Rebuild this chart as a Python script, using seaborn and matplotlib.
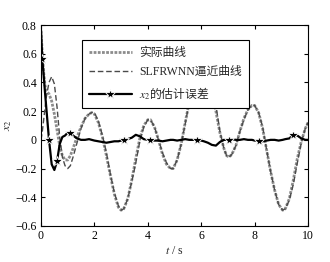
import matplotlib
matplotlib.use("Agg")
import matplotlib.pyplot as plt
import seaborn as sns
import pandas as pd

t = [0.0, 0.05, 0.1, 0.15, 0.2, 0.3, 0.4, 0.5, 0.6, 0.7,
     0.8, 0.9, 1.0, 1.1, 1.2, 1.35, 1.5, 1.65, 1.8, 1.9,
     2.0, 2.15, 2.3, 2.45, 2.6, 2.75, 2.9, 3.0, 3.1, 3.25,
     3.4, 3.55, 3.7, 3.85, 4.0, 4.1, 4.25, 4.4, 4.55, 4.7,
     4.85, 4.95, 5.1, 5.25, 5.4, 5.55, 5.7, 5.85, 6.0, 6.1,
     6.25, 6.4, 6.55, 6.7, 6.85, 6.95, 7.05, 7.15, 7.3, 7.45,
     7.6, 7.75, 7.9, 8.0, 8.15, 8.3, 8.45, 8.6, 8.75, 8.9,
     9.05, 9.15, 9.3, 9.45, 9.6, 9.75, 9.9, 10.0]

actual = [0.76, 0.6, 0.47, 0.38, 0.34, 0.32, 0.27, 0.18, 0.07, -0.04,
          -0.11, -0.14, -0.14, -0.11, -0.06, 0.02, 0.09, 0.15, 0.18, 0.19,
          0.18, 0.12, 0.02, -0.11, -0.25, -0.38, -0.47, -0.49, -0.48, -0.41,
          -0.28, -0.13, 0.01, 0.1, 0.14, 0.14, 0.09, 0.0, -0.1, -0.17,
          -0.2, -0.2, -0.14, -0.03, 0.12, 0.26, 0.38, 0.46, 0.5, 0.5,
          0.45, 0.34, 0.2, 0.05, -0.06, -0.11, -0.12, -0.1, -0.04, 0.06,
          0.15, 0.21, 0.24, 0.24, 0.19, 0.08, -0.07, -0.22, -0.35, -0.45,
          -0.49, -0.48, -0.41, -0.28, -0.13, -0.01, 0.08, 0.12]

estimate = [0.0, 0.06, 0.14, 0.22, 0.3, 0.4, 0.44, 0.39, 0.23, 0.02,
            -0.12, -0.18, -0.2, -0.18, -0.12, -0.02, 0.08, 0.15, 0.18, 0.19,
            0.19, 0.13, 0.03, -0.09, -0.24, -0.37, -0.46, -0.49, -0.48, -0.41,
            -0.29, -0.16, -0.01, 0.09, 0.14, 0.14, 0.09, 0.0, -0.09, -0.16,
            -0.2, -0.2, -0.14, -0.03, 0.11, 0.26, 0.38, 0.46, 0.5, 0.51,
            0.47, 0.37, 0.24, 0.06, -0.06, -0.11, -0.12, -0.1, -0.04, 0.06,
            0.14, 0.21, 0.24, 0.24, 0.19, 0.09, -0.07, -0.22, -0.35, -0.45,
            -0.49, -0.48, -0.42, -0.31, -0.16, -0.02, 0.08, 0.12]

error = [0.76, 0.56, 0.45, 0.33, 0.22, 0.0, -0.17, -0.21, -0.15, -0.03,
         0.02, 0.03, 0.05, 0.05, 0.03, 0.01, 0.0, 0.0, 0.005, 0.0,
         -0.005, -0.01, -0.015, -0.02, -0.015, -0.01, -0.01, -0.005, 0.0, 0.005,
         0.015, 0.035, 0.025, 0.005, 0.0, 0.0, -0.005, -0.005, -0.01, -0.005,
         0.0, 0.0, -0.005, 0.0, 0.005, 0.0, 0.0, 0.0, -0.005, -0.01,
         -0.02, -0.035, -0.04, -0.015, 0.0, 0.0, 0.0, 0.005, 0.0, 0.0,
         0.005, 0.0, 0.0, -0.005, -0.005, -0.01, -0.005, 0.0, 0.0, -0.005,
         0.0, 0.005, 0.01, 0.035, 0.03, 0.01, 0.0, 0.0]

marker_t = [0.05, 0.3, 0.6, 1.1, 3.1, 4.1, 5.85, 7.05, 8.15, 9.45]

labels = ["实际曲线", "SLFRWNN逼近曲线", "$x_2$的估计误差"]
xticks = [0, 2, 4, 6, 8, 10]
yticks = [-0.6, -0.4, -0.2, 0, 0.2, 0.4, 0.6, 0.8]
yticklabels = ["\u22120.6", "\u22120.4", "\u22120.2", "0", "0.2", "0.4", "0.6", "0.8"]

sns.set_style("ticks")
plt.rcParams["font.family"] = ["Liberation Serif", "Noto Sans CJK SC"]
plt.rcParams["mathtext.fontset"] = "stix"

df = pd.DataFrame({"t": t, "actual": actual, "estimate": estimate, "error": error})
mk_idx = [t.index(v) for v in marker_t]

fig = plt.figure(figsize=(3.3, 2.62), dpi=100)
ax = fig.add_axes([41 / 330, 1 - 226 / 262, 267 / 330, 201 / 262])

sns.lineplot(data=df, x="t", y="actual", ax=ax, color="#8c8c8c", linewidth=2.0,
             linestyle=(0, (1, 0.5)), label=labels[0], sort=False)
sns.lineplot(data=df, x="t", y="estimate", ax=ax, color="#4a4a4a", linewidth=1.0,
             linestyle=(0, (4, 2)), label=labels[1], sort=False)
sns.lineplot(data=df, x="t", y="error", ax=ax, color="black", linewidth=1.6,
             marker="*", markersize=7, markeredgewidth=0.6, markevery=mk_idx,
             label=labels[2], sort=False)

ax.set_xlim(0, 10)
ax.set_ylim(-0.6, 0.8)
ax.set_xticks(xticks)
ax.set_xticklabels([str(v) for v in xticks])
ax.set_yticks(yticks)
ax.set_yticklabels(yticklabels)
ax.tick_params(direction="in", top=True, right=True, length=3, width=0.8,
               labelsize=8.5, pad=3, colors="black")
for s in ax.spines.values():
    s.set_linewidth(0.8)
    s.set_color("black")

ax.set_xlabel("$t$ / s", fontsize=8.5, labelpad=2)
ax.set_ylabel("$x_2$", fontsize=8.5, labelpad=1)

leg = ax.legend(loc="upper left", bbox_to_anchor=(0.154, 0.925), fontsize=8.5,
                frameon=True, fancybox=False, edgecolor="black", framealpha=1,
                handlelength=3.6, borderpad=0.6, labelspacing=0.6, handletextpad=0.6,
                borderaxespad=0)
leg.get_frame().set_linewidth(0.8)
leg.get_texts()[2].set_family(["Noto Sans CJK SC"])

fig.savefig("out.png", dpi=100)
